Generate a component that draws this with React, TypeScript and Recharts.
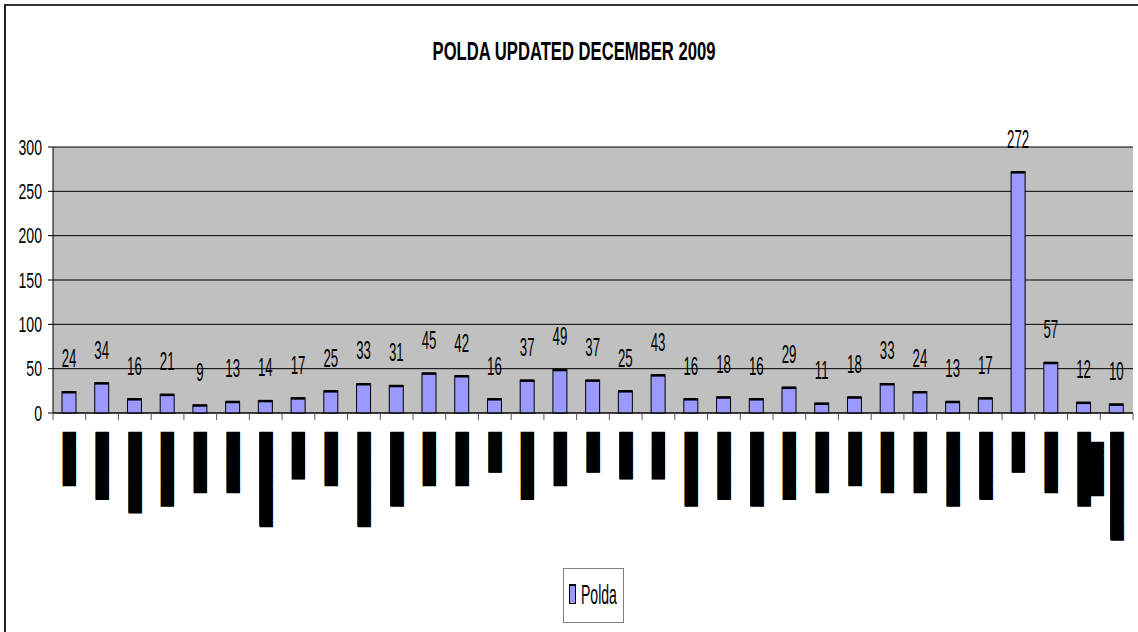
import React from 'react';
import { BarChart, Bar, XAxis, YAxis, CartesianGrid, LabelList } from 'recharts';

// labels are blacked out in the source picture, kept as redacted text
const regions = [
  '████████', '██████████', '████████████', '███████████', '█████████',
  '█████████', '██████████████', '███████', '████████', '██████████████',
  '███████████', '████████', '████████', '██████', '██████████',
  '████████', '██████', '███████', '███████', '███████████',
  '██████████', '███████████', '██████████', '█████████', '████████',
  '█████████', '█████████', '███████████', '██████████', '██████',
  '█████████', '███████████\n████████', '████████████████',
];

const polda = [
  24, 34, 16, 21, 9, 13, 14, 17, 25, 33, 31, 45, 42, 16, 37, 49, 37,
  25, 43, 16, 18, 16, 29, 11, 18, 33, 24, 13, 17, 272, 57, 12, 10,
];

const yTicks = [0, 50, 100, 150, 200, 250, 300];

const data = regions.map((name, i) => ({ name, polda: polda[i] }));

const W = 1138;
const H = 632;
const PLOT_LEFT = 53;
const PLOT_RIGHT = 1133;
const STEP = (PLOT_RIGHT - PLOT_LEFT) / regions.length;
const FONT = 'Liberation Sans, Arial, sans-serif';
const CHAR = 6.74; // length of one redacted glyph

const YTick = (props: any) => {
  const { x, y, payload } = props;
  return (
    <g transform={`translate(${x - 4},${y})`}>
      <text transform="scale(0.64,1)" textAnchor="end" dominantBaseline="central" fontFamily={FONT} fontSize={22} fill="#000">
        {payload.value}
      </text>
    </g>
  );
};

const XTick = (props: any) => {
  const { x, y, payload, index } = props;
  const lines = String(payload.value).split('\n');
  const left = x - STEP / 2;
  return (
    <g>
      <line x1={left} x2={left} y1={y} y2={y + 7} stroke="#555" />
      {index === regions.length - 1 && <line x1={left + STEP} x2={left + STEP} y1={y} y2={y + 7} stroke="#555" />}
      {lines.map((ln, k) => (
        <g key={k} transform={`translate(${x + k * 13},${y + 19 + k * 10}) rotate(-90)`}>
          <rect x={-ln.length * CHAR} y={-6.5} width={ln.length * CHAR} height={13} fill="#000" />
          <text
            transform="scale(0.79,1)"
            textAnchor="end"
            dominantBaseline="central"
            fontFamily="DejaVu Sans"
            fontSize={11.2}
            fill="#000"
          >
            {ln}
          </text>
        </g>
      ))}
    </g>
  );
};

const BarShape = (props: any) => {
  const { x, y, width, height } = props;
  if (!height) return null;
  return (
    <g>
      <rect x={x} y={y} width={width} height={height} fill="#9999FF" stroke="#000" strokeWidth={1} />
      <line x1={x} x2={x + width} y1={y + 0.5} y2={y + 0.5} stroke="#000" strokeWidth={2.5} />
    </g>
  );
};

const ValueLabel = (props: any) => {
  const { x, y, width, value } = props;
  return (
    <g transform={`translate(${x + width / 2},${y - 33})`}>
      <text transform="scale(0.53,1)" textAnchor="middle" dominantBaseline="central" fontFamily={FONT} fontSize={25} fill="#000">
        {value}
      </text>
    </g>
  );
};

export default function App() {
  return (
    <div style={{ position: 'fixed', left: 0, top: 0, width: W, height: H, background: '#fff', overflow: 'hidden' }}>
      <div style={{ position: 'absolute', left: 4, top: 4, width: W + 10, height: H + 10, borderLeft: '2px solid #222', borderTop: '2px solid #333' }} />
      <svg width={W} height={90} style={{ position: 'absolute', left: 0, top: 0 }}>
        <text transform="translate(574,60) scale(0.666,1)" textAnchor="middle" fontFamily={FONT} fontWeight="bold" fontSize={25} fill="#000">
          POLDA UPDATED DECEMBER 2009
        </text>
      </svg>
      <div style={{ position: 'absolute', left: 0, top: 0 }}>
        <BarChart width={W} height={H} data={data} margin={{ top: 147, right: W - PLOT_RIGHT, left: 0, bottom: 69 }}>
          <CartesianGrid fill="#C0C0C0" stroke="#000" vertical={false} />
          <XAxis
            dataKey="name"
            interval={0}
            height={150}
            tickLine={false}
            tickSize={0}
            tickMargin={0}
            axisLine={{ stroke: '#000' }}
            tick={<XTick />}
          />
          <YAxis
            width={PLOT_LEFT}
            domain={[0, 300]}
            ticks={yTicks}
            interval={0}
            tickSize={5}
            tickMargin={2}
            tickLine={{ stroke: '#000' }}
            axisLine={{ stroke: '#000' }}
            tick={<YTick />}
          />
          <Bar dataKey="polda" barSize={14} shape={<BarShape />} isAnimationActive={false}>
            <LabelList dataKey="polda" content={<ValueLabel />} />
          </Bar>
        </BarChart>
      </div>
      <div style={{ position: 'absolute', left: 563, top: 568, width: 59, height: 53, border: '1px solid #808080', background: '#fff' }}>
        <div style={{ position: 'absolute', left: 5, top: 15, width: 5, height: 17, background: '#9999FF', border: '1px solid #000', borderTopWidth: 2 }} />
        <svg width={59} height={53} style={{ position: 'absolute', left: 0, top: 0 }}>
          <text transform="translate(17,35) scale(0.52,1)" fontFamily={FONT} fontSize={27} fill="#000">
            Polda
          </text>
        </svg>
      </div>
    </div>
  );
}
